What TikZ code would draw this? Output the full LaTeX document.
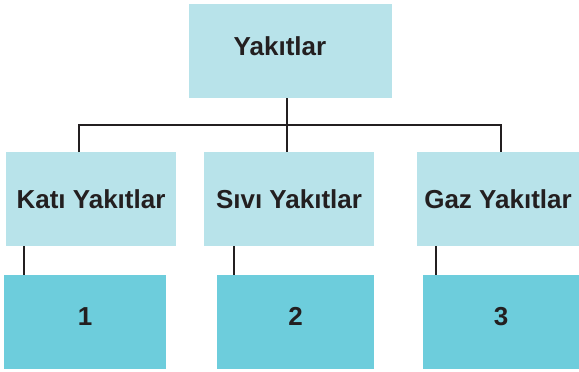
\documentclass[tikz,border=0pt]{standalone}
\usepackage{fontspec}
\setmainfont{Liberation Sans}
\definecolor{lightbox}{HTML}{B8E3EA}
\definecolor{darkbox}{HTML}{6DCDDC}
\definecolor{ink}{HTML}{231F20}
\begin{document}
\begin{tikzpicture}[x=0.5pt,y=-0.5pt,
  box/.style={draw=none,inner sep=0pt,outer sep=0pt,anchor=center,
    font=\fontsize{13pt}{15pt}\selectfont\bfseries,text=ink},
  upper/.style={box,fill=lightbox},
  lower/.style={box,fill=darkbox},
  txt/.style={font=\fontsize{13pt}{15pt}\selectfont\bfseries,text=ink,inner sep=0pt},
  conn/.style={draw=ink,line width=1pt}]
\useasboundingbox (0,0) rectangle (579,371);
% top
\node[upper,minimum width=101.5pt,minimum height=47pt,
  label={[txt,xshift=-5.25pt,yshift=2.5pt]center:Yakıtlar}] (top) at (290.5,51) {};
% middle row
\node[upper,minimum width=85pt,minimum height=47pt] (mid1) at (91,199) {Katı Yakıtlar};
\node[upper,minimum width=85pt,minimum height=47pt] (mid2) at (289,199) {Sıvı Yakıtlar};
\node[upper,minimum width=81pt,minimum height=47pt] (mid3) at (498,199) {Gaz Yakıtlar};
% bottom row
\node[lower,minimum width=81pt,minimum height=47pt,
  label={[txt,xshift=0pt,yshift=2.75pt]center:1}] (b1) at (85,322) {};
\node[lower,minimum width=78.5pt,minimum height=47pt,
  label={[txt,xshift=0pt,yshift=2.75pt]center:2}] (b2) at (295.5,322) {};
\node[lower,minimum width=78pt,minimum height=47pt,
  label={[txt,xshift=0pt,yshift=2.75pt]center:3}] (b3) at (501,322) {};
% junctions
\coordinate (jc) at (287,125);
\coordinate (jl) at (79,125);
\coordinate (jr) at (501,125);
\coordinate (l1) at (24,260);
\coordinate (l2) at (234,260);
\coordinate (l3) at (436,260);
% connectors
\draw[conn] (top.south -| jc) -- (mid2.north -| jc);
\draw[conn] (mid1.north -| jl) -- (jl) -- (jr) -- (mid3.north -| jr);
\draw[conn] (mid1.south -| l1) -- (b1.north -| l1);
\draw[conn] (mid2.south -| l2) -- (b2.north -| l2);
\draw[conn] (mid3.south -| l3) -- (b3.north -| l3);
\end{tikzpicture}
\end{document}
